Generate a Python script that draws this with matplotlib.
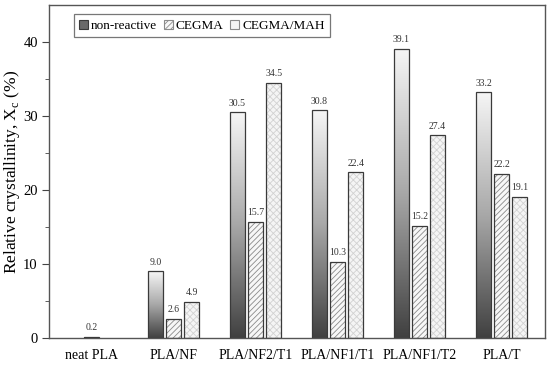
import matplotlib
matplotlib.use("Agg")
import matplotlib.pyplot as plt
import numpy as np
from matplotlib.colors import LinearSegmentedColormap
from matplotlib.patches import Patch

categories = ["neat PLA", "PLA/NF", "PLA/NF2/T1", "PLA/NF1/T1", "PLA/NF1/T2", "PLA/T"]
non_reactive = [0.2, 9.0, 30.5, 30.8, 39.1, 33.2]
cegma = [None, 2.6, 15.7, 10.3, 15.2, 22.2]
cegma_mah = [None, 4.9, 34.5, 22.4, 27.4, 19.1]
series_names = ["non-reactive", "CEGMA", "CEGMA/MAH"]
yticks = [0, 10, 20, 30, 40]

plt.rcParams['font.family'] = ['Liberation Serif', 'DejaVu Serif']
plt.rcParams['hatch.linewidth'] = 0.6

fig = plt.figure(figsize=(5.5, 3.65), dpi=100)
ax = fig.add_axes([0.089, 0.074, 0.902, 0.912])

w = 0.18
step = 0.22
edge = '#3a3a3a'
cmap = LinearSegmentedColormap.from_list('g', ['#404040', '#a8a8a8', '#f6f6f6'])
grad = np.linspace(0, 1, 256).reshape(-1, 1)

x = np.arange(len(categories))
for i, cat in enumerate(categories):
    single = cegma[i] is None
    off = 0 if single else -step
    xc = x[i] + off
    v = non_reactive[i]
    b = ax.bar(xc, v, w, facecolor='none', edgecolor=edge, linewidth=0.9, zorder=3)
    im = ax.imshow(grad, cmap=cmap, aspect='auto', origin='lower',
                   extent=[xc - w/2, xc + w/2, 0, v], zorder=2)
    im.set_clip_path(b.patches[0])
    ax.text(xc, v + 0.6, f"{v:.1f}", ha='center', va='bottom', fontsize=7, color='#333333')
    if not single:
        c = cegma[i]
        ax.bar(x[i], c, w, facecolor='#f7f7f7', edgecolor='#8a8a8a', hatch='//////',
               linewidth=0, zorder=2)
        ax.bar(x[i], c, w, facecolor='none', edgecolor=edge, linewidth=0.9, zorder=3)
        ax.text(x[i], c + 0.6, f"{c:.1f}", ha='center', va='bottom', fontsize=7, color='#333333')
        m = cegma_mah[i]
        ax.bar(x[i] + step, m, w, facecolor='#f5f5f5', edgecolor='#d2d2d2', hatch='xxxxx',
               linewidth=0, zorder=2)
        ax.bar(x[i] + step, m, w, facecolor='none', edgecolor=edge, linewidth=0.9, zorder=3)
        ax.text(x[i] + step, m + 0.6, f"{m:.1f}", ha='center', va='bottom', fontsize=7, color='#333333')

ax.set_xlim(-0.52, 5.53)
ax.set_ylim(0, 45)
ax.set_xticks(x)
ax.set_xticklabels(categories, fontsize=10)
ax.tick_params(axis='x', length=0, pad=8)
ax.set_yticks(yticks)
ax.set_yticks([5, 15, 25, 35], minor=True)
ax.tick_params(axis='y', which='major', direction='out', length=5, labelsize=10.5, color='#444444', pad=3)
ax.tick_params(axis='y', which='minor', direction='out', length=3, color='#444444')
ax.set_ylabel("Relative crystallinity, X$_\\mathregular{c}$ (%)", fontsize=12.5, labelpad=1)
for s in ax.spines.values():
    s.set_color('#555555')
    s.set_linewidth(1.0)

handles = [
    Patch(facecolor='#6a6a6a', edgecolor=edge, linewidth=0.8),
    Patch(facecolor='#f7f7f7', edgecolor='#8a8a8a', hatch='//////', linewidth=0.8),
    Patch(facecolor='#f4f4f4', edgecolor='#8a8a8a', linewidth=0.8),
]
leg = ax.legend(handles, series_names, loc='upper left', bbox_to_anchor=(0.045, 0.98), ncol=3,
                fontsize=9.5, frameon=True, fancybox=False, edgecolor='#555555',
                handlelength=0.7, handleheight=0.7, handletextpad=0.2, columnspacing=0.5,
                borderpad=0.4, borderaxespad=0.2)
leg.get_frame().set_linewidth(0.9)

fig.savefig("out.png", dpi=100)
